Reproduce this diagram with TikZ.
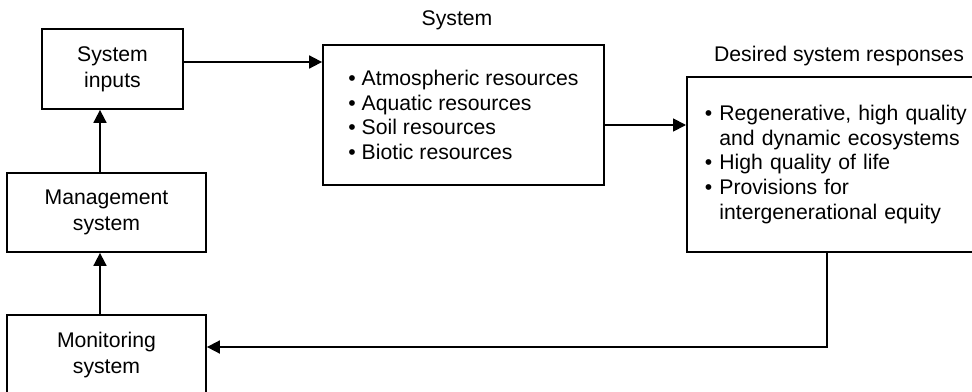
\documentclass[tikz,border=0pt]{standalone}
\usepackage{fontspec}
\setmainfont{Liberation Sans}
\usetikzlibrary{arrows.meta}
\newcommand{\boxfont}{\fontsize{10.6}{13}\selectfont}
\newcommand{\listfont}{\fontsize{10.6}{12.4}\selectfont}
\begin{document}
\begin{tikzpicture}[x=0.5pt,y=-0.5pt,
  box/.style={draw, line width=0.9pt, inner sep=0pt, align=center, font=\boxfont},
  listbox/.style={box, align=left, font=\listfont},
  heading/.style={inner sep=0pt, font=\boxfont},
  arr/.style={line width=0.9pt, -{Triangle[length=6.5pt,width=6.5pt]}}
]
\useasboundingbox (0,0) rectangle (972,391);
\clip (0,0) rectangle (972,391);

% blocks of the loop
\node[box, minimum width=70.5pt, minimum height=40pt] (inputs) at (112.5,69) {System\\inputs};
\node[box, minimum width=99.5pt, minimum height=39.5pt] (mgmt) at (106.5,212.5) {Management\\system};
\node[box, minimum width=99.5pt, minimum height=40pt] (monitor) at (106.5,355) {Monitoring\\system};

\node[listbox, minimum width=140.5pt, minimum height=70pt] (system) at (463.5,115)
  {• Atmospheric resources\\• Aquatic resources\\• Soil resources\\• Biotic resources};
\node[listbox, anchor=west, text width=140pt, inner xsep=9pt, minimum height=87.5pt] (desired) at (686,164.5)
  {• Regenerative, high quality\\\hphantom{•\ }and dynamic ecosystems\\• High quality of life\\• Provisions for\\\hphantom{•\ }intergenerational equity};

% headings
\node[heading] (systitle) at (457,20) {System};
\node[heading] (desiredtitle) at (839,56) {Desired system responses};

% connector guides
\coordinate (yin) at (0,62);
\coordinate (yout) at (0,125);
\coordinate (xleft) at (100,0);
\coordinate (xdown) at (827,0);
\coordinate (yback) at (0,347);

\draw[arr] (inputs.east |- yin) -- (system.west |- yin);
\draw[arr] (system.east |- yout) -- (desired.west |- yout);
\draw[arr] (mgmt.north -| xleft) -- (inputs.south -| xleft);
\draw[arr] (monitor.north -| xleft) -- (mgmt.south -| xleft);
\draw[arr] (desired.south -| xdown) |- (monitor.east |- yback);
\end{tikzpicture}
\end{document}
